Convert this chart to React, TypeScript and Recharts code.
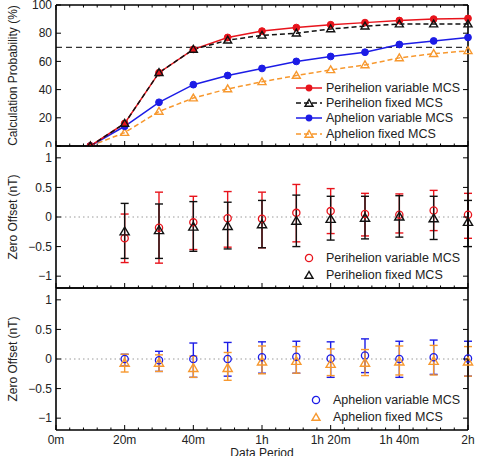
import React from "react";
import {
  ComposedChart,
  ErrorBar,
  Legend,
  Line,
  ReferenceLine,
  Scatter,
  XAxis,
  YAxis,
} from "recharts";

const FONT = "'Liberation Sans', Arial, Helvetica, sans-serif";
const INK = "#222";
const RED = "#e8141c";
const BLUE = "#1c1ce6";
const ORANGE = "#f7982e";
const BLACK = "#111";

// calculation probability (%) per data period (minutes)
const periods = [10, 20, 30, 40, 50, 60, 70, 80, 90, 100, 110, 120];
const periVarProb = [0, 16, 52, 68.5, 77, 81.5, 84, 86, 87.5, 89, 90, 90.5];
const periFixProb = [0, 16, 52, 68.5, 75, 78.5, 80, 83, 85, 86.5, 86.5, 86.5];
const aphVarProb = [0, 14, 31, 43.5, 50, 55, 60, 63.5, 66.5, 72, 74.5, 77];
const aphFixProb = [0, 9.5, 24.5, 34, 40.5, 45.5, 50, 54, 57.5, 62.5, 65.5, 67.5];
const probThreshold = 70;

// zero offset (nT): centre, upper and lower bound
const offsetPeriods = [20, 30, 40, 50, 60, 70, 80, 90, 100, 110, 120];
const periVarOff = [-0.36, -0.18, -0.09, -0.02, -0.03, 0.07, 0.1, 0.05, 0.04, 0.11, 0.04];
const periVarHi = [0.05, 0.42, 0.35, 0.43, 0.42, 0.55, 0.48, 0.4, 0.39, 0.45, 0.4];
const periVarLo = [-0.77, -0.78, -0.55, -0.51, -0.52, -0.42, -0.28, -0.32, -0.27, -0.23, -0.36];
const periFixOff = [-0.23, -0.21, -0.15, -0.14, -0.11, -0.05, -0.02, 0.0, 0.02, -0.01, -0.07];
const periFixHi = [0.23, 0.22, 0.26, 0.25, 0.28, 0.37, 0.35, 0.35, 0.36, 0.35, 0.28];
const periFixLo = [-0.7, -0.7, -0.58, -0.54, -0.52, -0.5, -0.39, -0.37, -0.34, -0.38, -0.5];
const aphVarOff = [0.0, -0.02, 0.0, 0.0, 0.03, 0.04, 0.01, 0.06, 0.0, 0.03, 0.01];
const aphVarHi = [0.08, 0.13, 0.27, 0.28, 0.29, 0.3, 0.29, 0.34, 0.3, 0.32, 0.3];
const aphVarLo = [-0.12, -0.21, -0.31, -0.29, -0.24, -0.24, -0.31, -0.23, -0.31, -0.26, -0.29];
const aphFixOff = [-0.05, -0.05, -0.14, -0.14, -0.03, -0.02, -0.07, -0.05, -0.03, -0.02, -0.03];
const aphFixHi = [0.08, 0.07, 0.05, 0.11, 0.22, 0.21, 0.17, 0.16, 0.22, 0.23, 0.21];
const aphFixLo = [-0.22, -0.21, -0.31, -0.36, -0.25, -0.24, -0.28, -0.28, -0.27, -0.27, -0.29];

const probTicks = [0, 20, 40, 60, 80, 100];
const offsetTicks = [-1, -0.5, 0, 0.5, 1];
const periodTicks = [
  0, 4, 8, 12, 16, 20, 24, 28, 32, 36, 40, 44, 48, 52, 56, 60,
  64, 68, 72, 76, 80, 84, 88, 92, 96, 100, 104, 108, 112, 116, 120,
];

const probRows = periods.map((x, i) => ({
  x,
  pv: periVarProb[i],
  pf: periFixProb[i],
  av: aphVarProb[i],
  af: aphFixProb[i],
}));

const offsetRows = (mid: number[], hi: number[], lo: number[]) =>
  offsetPeriods.map((x, i) => ({ x, y: mid[i], err: [mid[i] - lo[i], hi[i] - mid[i]] }));

const periodLabel = (m: number) => {
  const h = Math.floor(m / 60);
  const r = m % 60;
  if (!h) return `${r}m`;
  return r ? `${h}h ${r}m` : `${h}h`;
};

const offsetLabel = (v: number) => (v < 0 ? `\u2212${-v}` : `${v}`);

const W = 477;
const LEFT = 56;
const RIGHT = 9;

const xTick = (inward: number, withLabel: boolean) => (p: any) => {
  const v = p.payload.value;
  const major = v % 20 === 0;
  return (
    <g>
      <line x1={p.x} x2={p.x} y1={p.y} y2={p.y + inward * (major ? 5 : 2.5)} stroke="#000" />
      {withLabel && major && (
        <text x={p.x} y={p.y + 14} textAnchor="middle" fontSize={12} fill={INK} fontFamily={FONT}>
          {periodLabel(v)}
        </text>
      )}
    </g>
  );
};

const yTickLeft = (fmt: (v: number) => string) => (p: any) => (
  <g>
    <line x1={p.x} x2={p.x + 5} y1={p.y} y2={p.y} stroke="#000" />
    <text x={p.x - 4} y={p.y} dy={4.2} textAnchor="end" fontSize={12} fill={INK} fontFamily={FONT}>
      {fmt(p.payload.value)}
    </text>
  </g>
);

const yTickRight = (p: any) => <line x1={p.x - 5} x2={p.x} y1={p.y} y2={p.y} stroke="#000" />;

const yTitle = (text: string, cy: number) => () => (
  <text
    x={13}
    y={cy}
    transform={`rotate(-90 13 ${cy})`}
    textAnchor="middle"
    dominantBaseline="central"
    fontSize={12}
    fill={INK}
    fontFamily={FONT}
  >
    {text}
  </text>
);

const triangle = (cx: number, cy: number, color: string, s = 4.5, fill = "none") => (
  <polygon
    points={`${cx},${cy - s} ${cx - s},${cy + s * 0.7} ${cx + s},${cy + s * 0.7}`}
    fill={fill}
    stroke={color}
    strokeWidth={1.4}
  />
);

const filledDot = (color: string) => (p: any) => (
  <circle key={`d${p.index}`} cx={p.cx} cy={p.cy} r={3.4} fill={color} stroke={color} />
);

const triDot = (color: string) => (p: any) => (
  <g key={`t${p.index}`}>{triangle(p.cx, p.cy, color, 4, "none")}</g>
);

const openCircle = (color: string) => (p: any) => (
  <circle cx={p.cx} cy={p.cy} r={3.6} fill="none" stroke={color} strokeWidth={1.3} />
);

const openTri = (color: string) => (p: any) => triangle(p.cx, p.cy + 1, color, 4.6);

// shared frame: bottom/top period axes and left/right value axes, ticks drawn inward
const frame = (
  domain: number[],
  ticks: number[],
  fmt: (v: number) => string,
  title: string,
  titleY: number,
  labelled: boolean,
) => [
  <XAxis
    key="xb"
    xAxisId="b"
    type="number"
    dataKey="x"
    domain={[0, 120]}
    ticks={periodTicks}
    interval={0}
    tickSize={0}
    tickMargin={0}
    tickLine={false}
    height={labelled ? 30 : 1}
    axisLine={{ stroke: "#000", strokeWidth: 1.6 }}
    tick={xTick(-1, labelled)}
    label={
      labelled
        ? () => (
            <text x={LEFT + (W - LEFT - RIGHT) / 2} y={170} textAnchor="middle" fontSize={12} fill={INK} fontFamily={FONT}>
              Data Period
            </text>
          )
        : undefined
    }
  />,
  <XAxis
    key="xt"
    xAxisId="t"
    orientation="top"
    type="number"
    dataKey="x"
    domain={[0, 120]}
    ticks={periodTicks}
    interval={0}
    tickSize={0}
    tickMargin={0}
    tickLine={false}
    height={1}
    axisLine={{ stroke: "#000", strokeWidth: 1.6 }}
    tick={xTick(1, false)}
  />,
  <YAxis
    key="yl"
    yAxisId="l"
    type="number"
    domain={domain}
    ticks={ticks}
    interval={0}
    width={LEFT}
    tickSize={0}
    tickMargin={0}
    tickLine={false}
    allowDataOverflow
    axisLine={{ stroke: "#000", strokeWidth: 1.6 }}
    tick={yTickLeft(fmt)}
    label={yTitle(title, titleY)}
  />,
  <YAxis
    key="yr"
    yAxisId="r"
    orientation="right"
    type="number"
    domain={domain}
    ticks={ticks}
    interval={0}
    width={RIGHT}
    tickSize={0}
    tickMargin={0}
    tickLine={false}
    allowDataOverflow
    axisLine={{ stroke: "#000", strokeWidth: 1.6 }}
    tick={yTickRight}
  />,
];

type LegendItem = { name: string; color: string; marker: "dot" | "tri" | "circle"; dash?: string };

const topLegend: LegendItem[] = [
  { name: "Perihelion variable MCS", color: RED, marker: "dot" },
  { name: "Perihelion fixed MCS", color: BLACK, marker: "tri", dash: "5 3" },
  { name: "Aphelion variable MCS", color: BLUE, marker: "dot" },
  { name: "Aphelion fixed MCS", color: ORANGE, marker: "tri", dash: "5 3" },
];
const periLegend: LegendItem[] = [
  { name: "Perihelion variable MCS", color: RED, marker: "circle" },
  { name: "Perihelion fixed MCS", color: BLACK, marker: "tri" },
];
const aphLegend: LegendItem[] = [
  { name: "Aphelion variable MCS", color: BLUE, marker: "circle" },
  { name: "Aphelion fixed MCS", color: ORANGE, marker: "tri" },
];

const LegendBox = ({ items, rowH, withLine, gap }: { items: LegendItem[]; rowH: number; withLine: boolean; gap: number }) => (
  <div style={{ fontFamily: FONT, fontSize: 12.5, color: INK }}>
    {items.map((it) => (
      <div key={it.name} style={{ display: "flex", alignItems: "center", height: rowH, whiteSpace: "nowrap" }}>
        <svg width={26} height={12} style={{ flex: "none" }}>
          {withLine && (
            <line x1={0} x2={26} y1={6} y2={6} stroke={it.color} strokeWidth={1.5} strokeDasharray={it.dash} />
          )}
          {it.marker === "dot" && <circle cx={13} cy={6} r={3.4} fill={it.color} />}
          {it.marker === "circle" && <circle cx={13} cy={6} r={3.6} fill="none" stroke={it.color} strokeWidth={1.3} />}
          {it.marker === "tri" && triangle(13, 6.5, it.color, 4)}
        </svg>
        <span style={{ marginLeft: gap }}>{it.name}</span>
      </div>
    ))}
  </div>
);

const legendAt = (left: number, top: number, node: React.ReactNode) => (
  <Legend
    layout="horizontal"
    verticalAlign="middle"
    align="center"
    content={() => node}
    wrapperStyle={{ left, top, width: "auto", height: "auto" }}
  />
);

const svgStyle = { overflow: "visible" as const };

const ProbabilityPanel = () => (
  <ComposedChart width={W} height={147} data={probRows} style={svgStyle} margin={{ top: 4, right: 0, bottom: 0, left: 0 }}>
    {frame([0, 100], probTicks, (v) => `${v}`, "Calculation Probability (%)", 75.5, false)}
    <ReferenceLine xAxisId="b" yAxisId="l" y={probThreshold} stroke="#333" strokeWidth={1.2} strokeDasharray="6 4" />
    <Line xAxisId="b" yAxisId="l" type="linear" dataKey="af" stroke={ORANGE} strokeWidth={1.5} strokeDasharray="5 3" dot={triDot(ORANGE)} isAnimationActive={false} />
    <Line xAxisId="b" yAxisId="l" type="linear" dataKey="av" stroke={BLUE} strokeWidth={1.5} dot={filledDot(BLUE)} isAnimationActive={false} />
    <Line xAxisId="b" yAxisId="l" type="linear" dataKey="pv" stroke={RED} strokeWidth={1.5} dot={filledDot(RED)} isAnimationActive={false} />
    <Line xAxisId="b" yAxisId="l" type="linear" dataKey="pf" stroke={BLACK} strokeWidth={1.5} strokeDasharray="5 3" dot={triDot(BLACK)} isAnimationActive={false} />
    {legendAt(296, 80, <LegendBox items={topLegend} rowH={15.3} withLine gap={4} />)}
  </ComposedChart>
);

const OffsetPanel = ({
  a,
  b,
  legend,
  legendLeft,
  labelled,
  height,
}: {
  a: { rows: any[]; color: string };
  b: { rows: any[]; color: string };
  legend: LegendItem[];
  legendLeft: number;
  labelled: boolean;
  height: number;
}) => (
  <ComposedChart width={W} height={height} style={svgStyle} margin={{ top: 0, right: 0, bottom: 0, left: 0 }}>
    {frame([-1.2, 1.2], offsetTicks, offsetLabel, "Zero Offset (nT)", 72, labelled)}
    <ReferenceLine xAxisId="b" yAxisId="l" y={0} stroke="#9a9a9a" strokeWidth={1} strokeDasharray="1.5 3" />
    <Scatter xAxisId="b" yAxisId="l" data={a.rows} dataKey="y" shape={openCircle(a.color)} isAnimationActive={false}>
      <ErrorBar dataKey="err" direction="y" width={4} stroke={a.color} strokeWidth={1.4} isAnimationActive={false} />
    </Scatter>
    <Scatter xAxisId="b" yAxisId="l" data={b.rows} dataKey="y" shape={openTri(b.color)} isAnimationActive={false}>
      <ErrorBar dataKey="err" direction="y" width={4} stroke={b.color} strokeWidth={1.4} isAnimationActive={false} />
    </Scatter>
    {legendAt(legendLeft, 105, <LegendBox items={legend} rowH={16.5} withLine={false} gap={4} />)}
  </ComposedChart>
);

export default function App() {
  return (
    <div style={{ position: "absolute", left: 0, top: 0, width: W, height: 456, background: "#fff", overflow: "hidden", fontFamily: FONT }}>
      <div style={{ position: "absolute", left: 0, top: 0 }}>
        <ProbabilityPanel />
      </div>
      <div style={{ position: "absolute", left: 0, top: 145 }}>
        <OffsetPanel
          a={{ rows: offsetRows(periVarOff, periVarHi, periVarLo), color: RED }}
          b={{ rows: offsetRows(periFixOff, periFixHi, periFixLo), color: BLACK }}
          legend={periLegend}
          legendLeft={296}
          labelled={false}
          height={144}
        />
      </div>
      <div style={{ position: "absolute", left: 0, top: 287 }}>
        <OffsetPanel
          a={{ rows: offsetRows(aphVarOff, aphVarHi, aphVarLo), color: BLUE }}
          b={{ rows: offsetRows(aphFixOff, aphFixHi, aphFixLo), color: ORANGE }}
          legend={aphLegend}
          legendLeft={303}
          labelled
          height={173}
        />
      </div>
    </div>
  );
}
